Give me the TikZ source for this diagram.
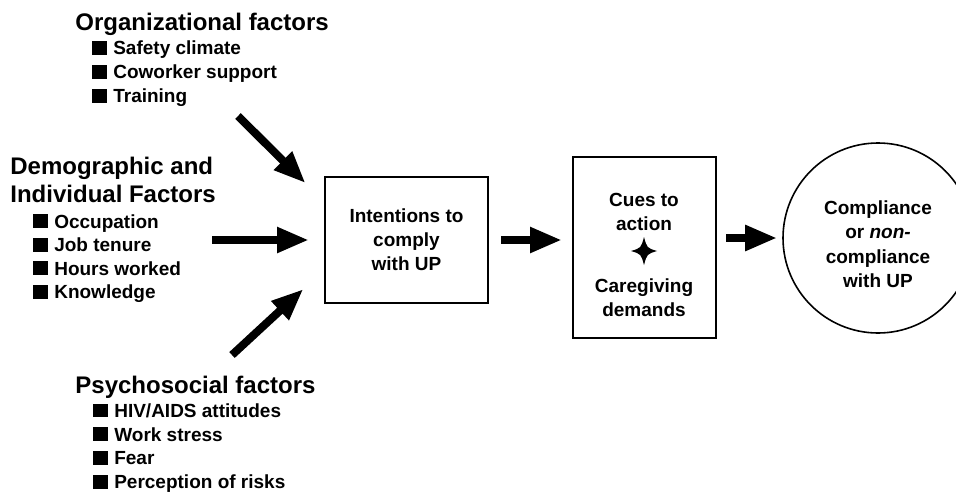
\documentclass[tikz,border=0pt]{standalone}
\usepackage{fontspec}
\setmainfont{Liberation Sans}
\usetikzlibrary{
  arrows.meta
}
\tikzset{
  >={Triangle[length=16pt,width=12pt]},
  % styles
  head/.style={
    font=\bfseries\fontsize{12}{14}\selectfont,
    inner sep=0pt,
    anchor=base west,
  },
  item/.style={
    font=\bfseries\fontsize{9.5}{12}\selectfont,
    inner sep=0pt,
    anchor=base west,
  },
  txt/.style={
    font=\bfseries\fontsize{9.5}{12}\selectfont,
    align=center,
    inner sep=0pt,
  },
  box/.style={
    txt,
    draw,
    line width=1pt,
  },
  fat/.style={
    ->,
    line width=4pt,
  }
}
\newcommand\blk{\rule{0.78em}{0.72em}\hspace{0.32em}}

\begin{document}
\begin{tikzpicture}[x=0.5pt,y=-0.5pt]
  \clip (0,0) rectangle (956,492);

  % factors
  \node [head] (org) at (75,31) {Organizational factors};
  \foreach \t [count=\i] in {Safety climate, Coworker support, Training}
    \node [item] (org\i) at (92,31+24*\i) {\blk\t};

  \node [head,anchor=north west,align=left] (dem) at (10,157)
    {Demographic and\\Individual Factors};
  \foreach \t [count=\i] in {Occupation, Job tenure, Hours worked, Knowledge}
    \node [item] (dem\i) at (33,204.5+23.5*\i) {\blk\t};

  \node [head] (psy) at (75,393) {Psychosocial factors};
  \foreach \t [count=\i] in {HIV/AIDS attitudes, Work stress, Fear, Perception of risks}
    \node [item] (psy\i) at (93,393.5+23.8*\i) {\blk\t};

  % boxes
  \node [box,minimum width=81.5pt,minimum height=63pt] (int) at (406.5,240)
    {Intentions to\\comply\\with UP};
  \node [box,minimum width=71.5pt,minimum height=90.5pt] (cue) at (644.5,247.5) {};
  \node [txt] (cuet)  at (644,212) {Cues to\\action};
  \node [txt] (caret) at (644,298) {Caregiving\\demands};
  \coordinate (star) at (644,251);
  \fill [shift={(star)}] (0,-14) .. controls (3,-3) .. (13,0)
    .. controls (3,3) .. (0,14) .. controls (-3,3) .. (-13,0)
    .. controls (-3,-3) .. cycle;

  \node [draw,circle,line width=0.8pt,minimum size=95pt,inner sep=0pt] (comp) at (878,238) {};
  \node [txt,font=\bfseries\fontsize{9.5}{12.25}\selectfont] (compt) at (878,244)
    {Compliance\\or \textit{non-}\\compliance\\with UP};

  % arrows
  \coordinate (orgtail) at (238,116);
  \coordinate (demtail) at (212,240);
  \coordinate (psytail) at (232,355);
  \draw [fat,shorten >=13pt] (orgtail) -- (int.155);
  \draw [fat,shorten >=7.5pt] (demtail) -- (int.west);
  \draw [fat,shorten >=14pt] (psytail) -- (int.200);
  \draw [fat,shorten <=6pt,shorten >=5pt] (int.east) -- (int.east -| cue.west);
  \draw [fat,shorten <=4.5pt,shorten >=2.5pt] (cue.east |- comp.west) -- (comp.west);
\end{tikzpicture}
\end{document}
